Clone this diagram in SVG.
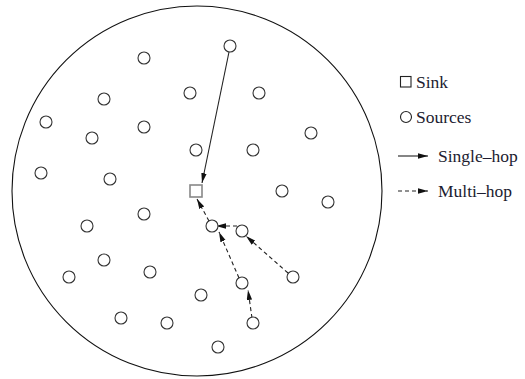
<svg xmlns="http://www.w3.org/2000/svg" width="525" height="379" viewBox="0 0 525 379">
<style>
.node{fill:#fff;stroke:#333;stroke-width:1.1}
.sink{fill:#fff;stroke:#888;stroke-width:1.6}
.edge{fill:none;stroke:#222;stroke-width:1.1}
.dash{stroke-dasharray:4 3}
.lbl{font-family:"Liberation Serif","Times New Roman",serif;font-size:17.5px;fill:#1c1c30}
</style>
<defs>
<marker id="ah" markerUnits="userSpaceOnUse" markerWidth="11" markerHeight="6" refX="10" refY="2.75" orient="auto">
<path d="M0,0 L10,2.75 L0,5.5 Z" fill="#111"/>
</marker>
</defs>
<rect width="525" height="379" fill="#fff"/>
<circle cx="197" cy="191" r="185" fill="none" stroke="#111" stroke-width="1.1"/>
<g id="connectors">
<line class="edge" x1="229" y1="52" x2="202" y2="183" marker-end="url(#ah)"/>
<line class="edge dash" x1="209" y1="221" x2="197" y2="199" marker-end="url(#ah)"/>
<line class="edge dash" x1="237" y1="226" x2="216" y2="226" marker-end="url(#ah)"/>
<line class="edge dash" x1="288" y1="273" x2="246" y2="236" marker-end="url(#ah)"/>
<line class="edge dash" x1="239" y1="278" x2="219" y2="232" marker-end="url(#ah)"/>
<line class="edge dash" x1="252" y1="318" x2="248" y2="290" marker-end="url(#ah)"/>
</g>
<g id="sink"><rect class="sink" x="190" y="185" width="12" height="12"/></g>
<g id="n1"><circle class="node" cx="230" cy="46" r="6"/></g>
<g id="n2"><circle class="node" cx="144" cy="58" r="6"/></g>
<g id="n3"><circle class="node" cx="190" cy="93" r="6"/></g>
<g id="n4"><circle class="node" cx="259" cy="93" r="6"/></g>
<g id="n5"><circle class="node" cx="104" cy="99" r="6"/></g>
<g id="n6"><circle class="node" cx="46" cy="122" r="6"/></g>
<g id="n7"><circle class="node" cx="144" cy="127" r="6"/></g>
<g id="n8"><circle class="node" cx="92" cy="138" r="6"/></g>
<g id="n9"><circle class="node" cx="311" cy="133" r="6"/></g>
<g id="n10"><circle class="node" cx="196" cy="150" r="6"/></g>
<g id="n11"><circle class="node" cx="253" cy="150" r="6"/></g>
<g id="n12"><circle class="node" cx="41" cy="173" r="6"/></g>
<g id="n13"><circle class="node" cx="110" cy="179" r="6"/></g>
<g id="n14"><circle class="node" cx="282" cy="191" r="6"/></g>
<g id="n15"><circle class="node" cx="328" cy="202" r="6"/></g>
<g id="n16"><circle class="node" cx="144" cy="214" r="6"/></g>
<g id="n17"><circle class="node" cx="87" cy="226" r="6"/></g>
<g id="n18"><circle class="node" cx="212" cy="226" r="6"/></g>
<g id="n19"><circle class="node" cx="242" cy="231" r="6"/></g>
<g id="n20"><circle class="node" cx="104" cy="260" r="6"/></g>
<g id="n21"><circle class="node" cx="150" cy="272" r="6"/></g>
<g id="n22"><circle class="node" cx="69" cy="277" r="6"/></g>
<g id="n23"><circle class="node" cx="293" cy="277" r="6"/></g>
<g id="n24"><circle class="node" cx="242" cy="283" r="6"/></g>
<g id="n25"><circle class="node" cx="201" cy="295" r="6"/></g>
<g id="n26"><circle class="node" cx="121" cy="318" r="6"/></g>
<g id="n27"><circle class="node" cx="167" cy="323" r="6"/></g>
<g id="n28"><circle class="node" cx="253" cy="323" r="6"/></g>
<g id="n29"><circle class="node" cx="218" cy="347" r="6"/></g>
<g id="legend">
<rect x="400.5" y="76.5" width="10.5" height="10.5" fill="#fff" stroke="#222" stroke-width="1.1"/>
<text class="lbl" x="416" y="87.5">Sink</text>
<circle cx="406" cy="117" r="5.5" fill="#fff" stroke="#222" stroke-width="1.1"/>
<text class="lbl" x="416" y="122.5">Sources</text>
<line class="edge" x1="398" y1="156" x2="428" y2="156" marker-end="url(#ah)"/>
<text class="lbl" x="438" y="162">Single–hop</text>
<line class="edge dash" x1="398" y1="191" x2="428" y2="191" marker-end="url(#ah)"/>
<text class="lbl" x="438" y="197">Multi–hop</text>
</g>
</svg>
